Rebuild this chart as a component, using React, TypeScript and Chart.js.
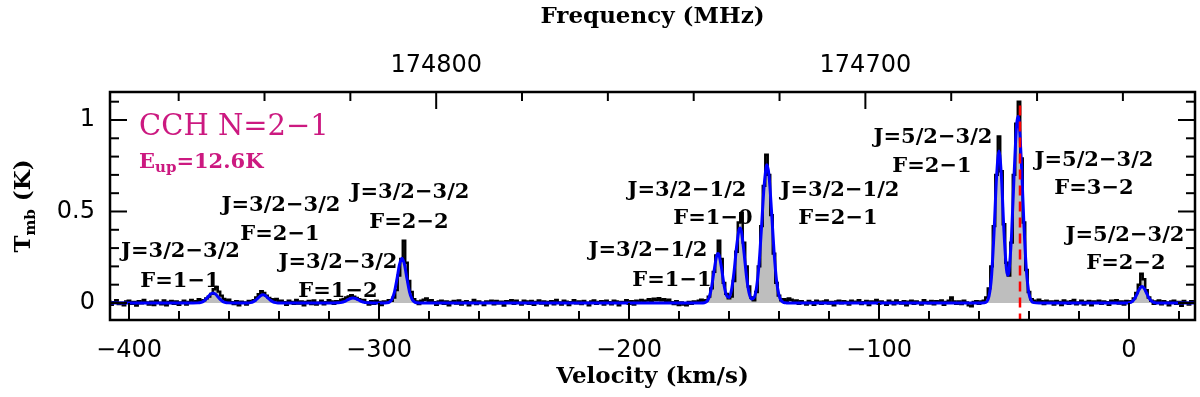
import React, { useEffect, useRef } from 'react';
import { Chart, registerables } from 'chart.js';

Chart.register(...registerables);

// ---------- DATA ----------
// Observed spectrum: channel centres start at CHANNEL_START and are CHANNEL_WIDTH apart (km/s)
const CHANNEL_START = -408;
const CHANNEL_WIDTH = 1;
const observedT: number[] = [
  /* -408 */ 0.008, -0.010, 0.004, 0.015, -0.006, 0.002, -0.012, 0.009, 0.013, -0.004,
  /* -398 */ 0.006, -0.014, 0.010, -0.002, 0.016, 0.003, -0.009, 0.007, -0.011, 0.012,
  /* -388 */ 0.001, -0.007, 0.014, -0.013, 0.005, 0.011, -0.004, 0.008, -0.010, 0.003,
  /* -378 */ 0.012, -0.008, 0.006, 0.017, 0.004, 0.010, 0.020, 0.008, 0.015, 0.025,
  /* -368 */ 0.035, 0.050, 0.075, 0.087, 0.062, 0.040, 0.022, 0.012, 0.018, 0.004,
  /* -358 */ -0.006, 0.010, -0.012, 0.007, 0.003, -0.009, 0.011, 0.006, 0.015, 0.030,
  /* -348 */ 0.048, 0.065, 0.055, 0.040, 0.028, 0.020, 0.014, 0.022, 0.009, 0.012,
  /* -338 */ 0.004, -0.010, 0.013, 0.006, -0.005, 0.016, -0.003, 0.008, -0.012, 0.005,
  /* -328 */ 0.011, -0.006, 0.014, -0.009, 0.002, 0.012, -0.007, 0.004, 0.015, 0.008,
  /* -318 */ -0.004, 0.010, 0.006, 0.018, 0.022, 0.030, 0.036, 0.042, 0.035, 0.028,
  /* -308 */ 0.020, 0.012, 0.016, 0.003, -0.008, 0.010, -0.004, 0.012, 0.006, -0.011,
  /* -298 */ 0.008, 0.004, 0.015, 0.012, 0.030, 0.070, 0.150, 0.240, 0.340, 0.220,
  /* -288 */ 0.120, 0.060, 0.020, 0.008, -0.006, 0.012, 0.018, 0.025, 0.010, 0.015,
  /* -278 */ 0.004, -0.010, 0.008, 0.013, -0.005, 0.009, -0.012, 0.006, 0.011, -0.003,
  /* -268 */ 0.014, -0.008, 0.005, 0.010, -0.013, 0.003, 0.016, -0.006, 0.008, 0.002,
  /* -258 */ -0.011, 0.009, 0.004, 0.013, -0.007, 0.011, -0.002, 0.007, -0.014, 0.010,
  /* -248 */ 0.006, 0.015, -0.004, 0.012, 0.002, -0.009, 0.013, 0.008, -0.005, 0.011,
  /* -238 */ -0.010, 0.005, 0.014, -0.003, 0.009, -0.012, 0.006, 0.010, -0.007, 0.016,
  /* -228 */ 0.003, -0.008, 0.012, 0.007, -0.011, 0.004, 0.015, -0.002, 0.009, -0.006,
  /* -218 */ 0.011, 0.002, -0.013, 0.008, 0.014, -0.005, 0.006, 0.010, -0.009, 0.012,
  /* -208 */ 0.004, -0.007, 0.013, 0.009, -0.012, 0.006, 0.002, 0.015, -0.004, 0.010,
  /* -198 */ -0.009, 0.012, 0.005, 0.017, 0.008, 0.013, 0.020, 0.011, 0.024, 0.016,
  /* -188 */ 0.026, 0.014, 0.020, 0.008, 0.018, 0.004, -0.006, 0.010, -0.011, 0.003,
  /* -178 */ -0.008, -0.012, 0.005, -0.004, 0.009, 0.002, 0.012, 0.018, 0.010, 0.015,
  /* -168 */ 0.035, 0.080, 0.170, 0.260, 0.340, 0.240, 0.110, 0.050, 0.025, 0.035,
  /* -158 */ 0.120, 0.280, 0.440, 0.490, 0.330, 0.200, 0.090, 0.030, 0.015, 0.060,
  /* -148 */ 0.200, 0.420, 0.640, 0.810, 0.700, 0.480, 0.270, 0.110, 0.040, 0.015,
  /* -138 */ 0.020, 0.012, 0.025, 0.018, 0.006, 0.014, -0.004, 0.010, 0.002, -0.008,
  /* -128 */ 0.011, 0.004, -0.010, 0.013, 0.007, -0.005, 0.009, 0.014, -0.003, 0.006,
  /* -118 */ -0.012, 0.008, 0.012, -0.002, 0.010, 0.005, -0.009, 0.013, 0.001, 0.007,
  /* -108 */ 0.015, -0.006, 0.004, 0.011, -0.011, 0.008, 0.003, 0.016, -0.004, 0.009,
  /* -98 */ 0.002, -0.010, 0.012, 0.006, -0.007, 0.014, 0.004, -0.003, 0.010, -0.012,
  /* -88 */ 0.007, 0.013, -0.005, 0.009, 0.001, -0.009, 0.015, 0.005, -0.002, 0.011,
  /* -78 */ -0.007, 0.010, 0.004, 0.014, -0.010, 0.006, 0.012, 0.030, 0.008, -0.004,
  /* -68 */ 0.009, -0.006, 0.012, 0.003, -0.013, -0.018, 0.006, 0.010, -0.004, 0.008,
  /* -58 */ 0.012, 0.030, 0.080, 0.200, 0.420, 0.700, 0.910, 0.720, 0.430, 0.220,
  /* -48 */ 0.150, 0.330, 0.700, 0.980, 1.100, 0.790, 0.440, 0.180, 0.060, 0.020,
  /* -38 */ 0.012, 0.004, 0.018, 0.010, -0.006, 0.013, 0.002, 0.009, -0.008, 0.011,
  /* -28 */ 0.005, -0.011, 0.014, 0.007, -0.004, 0.010, 0.016, -0.007, 0.003, 0.012,
  /* -18 */ -0.009, 0.006, 0.011, -0.013, 0.008, 0.002, 0.013, -0.005, 0.009, 0.004,
  /* -8 */ -0.010, 0.012, 0.006, 0.015, -0.003, 0.008, -0.008, 0.011, 0.004, 0.010,
  /* 2 */ 0.025, 0.055, 0.100, 0.160, 0.130, 0.070, 0.030, 0.012, -0.004, 0.009,
  /* 12 */ 0.014, -0.007, 0.010, 0.003, -0.012, 0.008, 0.013, -0.004, 0.006, -0.015,
  /* 22 */ 0.011, 0.002, -0.009, 0.010, 0.005,
];

// Fitted hyperfine profile (blue curve), read at these velocities
const fitVelocity: number[] = [
  -408, -374.4, -372.4, -371.4, -370.4, -369.4, -368.4, -367.4, -366.4, -365.4, -364.4, -363.4, -362.4, -361.4, -360.4, -358.4,
  -354.4, -352.4, -351.4, -350.4, -349.4, -348.4, -347.4, -346.4, -345.4, -344.4, -343.4, -342.4, -341.4, -340.4, -338.4,
  -318.4, -316.4, -315.4, -314.4, -313.4, -312.4, -311.4, -310.4, -309.4, -308.4, -307.4, -306.4, -305.4, -304.4, -302.4,
  -298.8, -296.8, -295.8, -294.8, -293.8, -292.8, -291.8, -290.8, -289.8, -288.8, -287.8, -286.8, -285.8, -284.8, -282.8,
  -173, -171, -170, -169, -168, -167, -166, -165, -164.4, -164, -163, -162, -161, -160, -159, -158, -157, -156, -155.6,
  -155, -154, -153, -152, -151, -150, -149, -148, -147, -146, -145, -144.8, -144, -143, -142, -141, -140, -139, -138, -137, -135,
  -61, -59, -58, -57, -56, -55, -54, -53, -52, -51, -50, -49, -48.5, -48, -47, -46, -45, -44.4, -44, -43, -42, -41, -40, -39, -38, -36,
  -3, -1, 0, 1, 2, 3, 4, 5, 5.2, 6, 7, 8, 9, 10, 11, 13, 27,
];
const fitT: number[] = [
  0, 0, 0.0006, 0.0024, 0.0074, 0.018, 0.033, 0.0485, 0.055, 0.0485, 0.033, 0.018, 0.0074, 0.0024, 0.0006, 0,
  0, 0.0005, 0.002, 0.006, 0.0146, 0.027, 0.0397, 0.045, 0.0397, 0.027, 0.0146, 0.006, 0.002, 0.0005, 0,
  0, 0.0008, 0.002, 0.0052, 0.0107, 0.0179, 0.0244, 0.027, 0.0244, 0.0179, 0.0107, 0.0052, 0.002, 0.0008, 0,
  0, 0.001, 0.005, 0.021, 0.061, 0.132, 0.21, 0.245, 0.21, 0.132, 0.061, 0.021, 0.005, 0.001, 0,
  0, 0.0001, 0.0012, 0.0069, 0.0287, 0.084, 0.173, 0.254, 0.27, 0.263, 0.192, 0.1, 0.041, 0.03, 0.071, 0.168, 0.303, 0.4, 0.41,
  0.388, 0.276, 0.145, 0.057, 0.022, 0.029, 0.084, 0.21, 0.412, 0.631, 0.751, 0.755, 0.697, 0.504, 0.283, 0.124, 0.042, 0.011, 0.002, 0.0005, 0,
  0, 0.0001, 0.0007, 0.0063, 0.0365, 0.143, 0.38, 0.683, 0.83, 0.684, 0.388, 0.182, 0.152, 0.175, 0.365, 0.688, 0.965, 1.02, 0.995, 0.754, 0.419, 0.171, 0.051, 0.0113, 0.0018, 0,
  0, 0.0002, 0.0014, 0.0059, 0.0185, 0.0427, 0.072, 0.0895, 0.09, 0.0815, 0.0546, 0.0268, 0.0097, 0.0026, 0.0005, 0, 0,
];

// Systemic velocity marker (red dashed line)
const restVelocity = -43.6;
const restLineT: number[] = [-0.2, 1.11];

// Axis ranges
const velocityRange: [number, number] = [-407.6, 26.4];
const frequencyRange: [number, number] = [174623.2, 174876.0];
const tmbRange: [number, number] = [-0.093, 1.153];

// Ticks
const velocityTickLabels: number[] = [-400, -300, -200, -100, 0];
const VELOCITY_MINOR = 20;
const VELOCITY_MAJOR = 100;
const frequencyTickLabels: number[] = [174800, 174700];
const FREQ_MINOR = 20;
const FREQ_MAJOR = 100;
const tmbTickLabels: number[] = [0, 0.5, 1];
const TMB_MINOR = 0.1;
const TMB_MAJOR = 0.5;

// Transition labels: text, centre velocity, baseline Tmb
const labelText: string[] = [
  'J=3/2\u22123/2', 'F=1\u22121',
  'J=3/2\u22123/2', 'F=2\u22121',
  'J=3/2\u22123/2', 'F=1\u22122',
  'J=3/2\u22123/2', 'F=2\u22122',
  'J=3/2\u22121/2', 'F=1\u22121',
  'J=3/2\u22121/2', 'F=1\u22120',
  'J=3/2\u22121/2', 'F=2\u22121',
  'J=5/2\u22123/2', 'F=2\u22121',
  'J=5/2\u22123/2', 'F=3\u22122',
  'J=5/2\u22123/2', 'F=2\u22122',
];
const labelVelocity: number[] = [
  -379.4, -379.6, -339.2, -339.6, -316.4, -316.4, -287.6, -288.0, -192.4, -182.8,
  -176.8, -166.4, -115.6, -116.4, -78.4, -78.8, -14.0, -14.0, -1.6, -1.2,
];
const labelTmb: number[] = [
  0.251, 0.087, 0.503, 0.344, 0.191, 0.033, 0.574, 0.410, 0.257, 0.093,
  0.585, 0.432, 0.585, 0.432, 0.874, 0.716, 0.749, 0.596, 0.339, 0.186,
];

const moleculeTitle = 'CCH N=2\u22121';
const energyMain = 'E';
const energySub = 'up';
const energyRest = '=12.6K';
const titlePosition = { v: -396, t: 0.918 };
const energyPosition = { v: -396, t: 0.738 };

// ---------- STYLE ----------
const MAGENTA = 'rgb(204, 25, 128)';
const TICK_FONT = '24px "DejaVu Sans"';
const LABEL_FONT = 'bold 21px "DejaVu Serif"';
const TITLE_FONT = 'bold 23px "DejaVu Serif"';

const fmt = (v: number) => (v < 0 ? '\u2212' + String(Math.abs(v)) : String(v));

const framePlugin = {
  id: 'frame',
  afterDatasetsDraw(chart: any) {
    const { ctx, chartArea: a, scales } = chart;
    const xs = scales.x;
    const ys = scales.y;
    const x2 = scales.x2;
    const MAJ = 17;
    const MIN = 9;
    ctx.save();
    ctx.strokeStyle = '#000';
    ctx.lineWidth = 2;
    ctx.lineCap = 'butt';
    const seg = (x1: number, y1: number, x2p: number, y2: number) => {
      ctx.beginPath();
      ctx.moveTo(x1, y1);
      ctx.lineTo(x2p, y2);
      ctx.stroke();
    };
    const vMajEvery = Math.round(VELOCITY_MAJOR / VELOCITY_MINOR);
    for (let k = Math.ceil(xs.min / VELOCITY_MINOR); k * VELOCITY_MINOR <= xs.max; k++) {
      const px = xs.getPixelForValue(k * VELOCITY_MINOR);
      const len = k % vMajEvery === 0 ? MAJ : MIN;
      seg(px, a.bottom, px, a.bottom - len);
    }
    const fMajEvery = Math.round(FREQ_MAJOR / FREQ_MINOR);
    for (let k = Math.ceil(x2.min / FREQ_MINOR); k * FREQ_MINOR <= x2.max; k++) {
      const px = x2.getPixelForValue(k * FREQ_MINOR);
      const len = k % fMajEvery === 0 ? MAJ : MIN;
      seg(px, a.top, px, a.top + len);
    }
    const tMajEvery = Math.round(TMB_MAJOR / TMB_MINOR);
    for (let k = Math.ceil(ys.min / TMB_MINOR - 1e-9); k * TMB_MINOR <= ys.max + 1e-9; k++) {
      const py = ys.getPixelForValue(k * TMB_MINOR);
      const len = k % tMajEvery === 0 ? MAJ : MIN;
      seg(a.left, py, a.left + len, py);
      seg(a.right, py, a.right - len, py);
    }
    ctx.lineWidth = 2.5;
    ctx.strokeRect(a.left, a.top, a.right - a.left, a.bottom - a.top);

    // tick labels
    ctx.fillStyle = '#000';
    ctx.font = TICK_FONT;
    ctx.textAlign = 'center';
    ctx.textBaseline = 'alphabetic';
    velocityTickLabels.forEach((v) => ctx.fillText(fmt(v), xs.getPixelForValue(v), a.bottom + 37));
    frequencyTickLabels.forEach((f) => ctx.fillText(String(f), x2.getPixelForValue(f), a.top - 20));
    ctx.textAlign = 'right';
    ctx.textBaseline = 'middle';
    tmbTickLabels.forEach((t) => ctx.fillText(String(t), a.left - 15, ys.getPixelForValue(t)));

    // axis titles
    const cx = (a.left + a.right) / 2;
    ctx.font = TITLE_FONT;
    ctx.textAlign = 'center';
    ctx.textBaseline = 'alphabetic';
    ctx.fillText('Velocity (km/s)', cx, a.bottom + 63);
    ctx.fillText('Frequency (MHz)', cx, 23);

    // y title with subscript
    ctx.save();
    ctx.translate(30, (a.top + a.bottom) / 2);
    ctx.rotate(-Math.PI / 2);
    ctx.textAlign = 'left';
    const subFont = 'bold 15px "DejaVu Serif"';
    ctx.font = TITLE_FONT;
    const wT = ctx.measureText('T').width;
    const wRest = ctx.measureText(' (K)').width;
    ctx.font = subFont;
    const wSub = ctx.measureText('mb').width;
    let sx = -(wT + wSub + wRest) / 2;
    ctx.font = TITLE_FONT;
    ctx.fillText('T', sx, 0);
    sx += wT;
    ctx.font = subFont;
    ctx.fillText('mb', sx, 5);
    sx += wSub;
    ctx.font = TITLE_FONT;
    ctx.fillText(' (K)', sx, 0);
    ctx.restore();

    // molecule title
    ctx.fillStyle = MAGENTA;
    ctx.textAlign = 'left';
    ctx.textBaseline = 'alphabetic';
    ctx.font = '29px "DejaVu Serif"';
    ctx.fillText(moleculeTitle, xs.getPixelForValue(titlePosition.v), ys.getPixelForValue(titlePosition.t));
    let ex = xs.getPixelForValue(energyPosition.v);
    const ey = ys.getPixelForValue(energyPosition.t);
    ctx.font = 'bold 21px "DejaVu Serif"';
    ctx.fillText(energyMain, ex, ey);
    ex += ctx.measureText(energyMain).width;
    ctx.font = 'bold 15px "DejaVu Serif"';
    ctx.fillText(energySub, ex, ey + 4);
    ex += ctx.measureText(energySub).width;
    ctx.font = 'bold 21px "DejaVu Serif"';
    ctx.fillText(energyRest, ex, ey);

    // transition labels
    ctx.fillStyle = '#000';
    ctx.font = LABEL_FONT;
    ctx.textAlign = 'center';
    labelText.forEach((txt, i) => {
      ctx.fillText(txt, xs.getPixelForValue(labelVelocity[i]), ys.getPixelForValue(labelTmb[i]));
    });
    ctx.restore();
  },
};

export default function App() {
  const ref = useRef<HTMLCanvasElement>(null);
  useEffect(() => {
    document.body.style.margin = '0';
    const observed = observedT.map((t, i) => ({ x: CHANNEL_START + i * CHANNEL_WIDTH, y: t }));
    const fit = fitVelocity.map((v, i) => ({ x: v, y: fitT[i] }));
    const rest = restLineT.map((t) => ({ x: restVelocity, y: t }));
    const chart = new Chart(ref.current as HTMLCanvasElement, {
      type: 'line',
      data: {
        datasets: [
          {
            label: 'systemic velocity',
            data: rest,
            borderColor: '#ff0000',
            borderWidth: 2.5,
            borderDash: [10, 6],
            pointRadius: 0,
            fill: false,
            order: 0,
          },
          {
            label: 'fit',
            data: fit,
            borderColor: '#0000ff',
            borderWidth: 3,
            pointRadius: 0,
            cubicInterpolationMode: 'monotone',
            fill: false,
            order: 1,
          },
          {
            label: 'observed',
            data: observed,
            borderColor: '#000000',
            borderWidth: 2.4,
            pointRadius: 0,
            stepped: 'middle',
            fill: { target: 'origin', above: 'rgb(190,190,190)', below: 'rgba(0,0,0,0)' },
            order: 2,
          },
        ],
      } as any,
      options: {
        animation: false,
        responsive: false,
        devicePixelRatio: 1,
        layout: { padding: { left: 110, right: 5, top: 92, bottom: 77 } },
        plugins: { legend: { display: false }, tooltip: { enabled: false } },
        scales: {
          x: { type: 'linear', min: velocityRange[0], max: velocityRange[1], display: false },
          x2: { type: 'linear', position: 'top', reverse: true, min: frequencyRange[0], max: frequencyRange[1], display: false },
          y: { type: 'linear', min: tmbRange[0], max: tmbRange[1], display: false },
        },
      } as any,
      plugins: [framePlugin],
    });
    return () => chart.destroy();
  }, []);
  return <canvas ref={ref} width={1200} height={397} style={{ display: 'block', width: 1200, height: 397 }} />;
}
